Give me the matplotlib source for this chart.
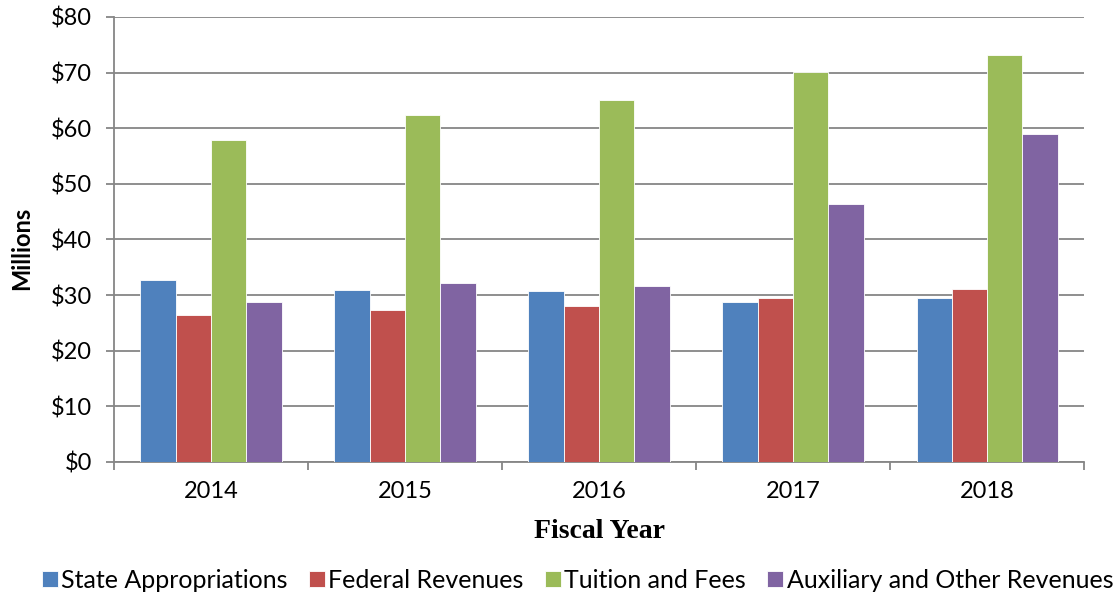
import matplotlib
matplotlib.use("Agg")
import matplotlib.pyplot as plt
import numpy as np

years = ["2014", "2015", "2016", "2017", "2018"]
series_names = ["State Appropriations", "Federal Revenues", "Tuition and Fees",
                "Auxiliary and Other Revenues"]
state = [32.7, 30.9, 30.7, 28.8, 29.5]
federal = [26.4, 27.3, 28.0, 29.5, 31.1]
tuition = [57.8, 62.3, 65.0, 70.1, 73.1]
auxiliary = [28.8, 32.1, 31.7, 46.3, 58.9]
colors = ["#4F81BD", "#C0504D", "#9BBB59", "#8064A2"]
yticks = [0, 10, 20, 30, 40, 50, 60, 70, 80]

sans = ["Lato", "DejaVu Sans"]

fig = plt.figure(figsize=(11.13, 6.02), dpi=100)
ax = fig.add_axes([0.1024, 0.2326, 0.8716, 0.7392])

data = [state, federal, tuition, auxiliary]
x = np.arange(len(years))
w = 1 / 5.5
for i, (vals, c, n) in enumerate(zip(data, colors, series_names)):
    ax.bar(x + (i - 1.5) * w, vals, width=w, color=c, label=n,
           edgecolor="white", linewidth=0.6, zorder=3)

ax.set_xlim(-0.5, len(years) - 0.5)
ax.set_ylim(0, 80)
ax.set_yticks(yticks)
ax.set_yticklabels([f"${v}" for v in yticks], fontsize=17, family=sans)
ax.yaxis.grid(True, color="#868686", linewidth=1.3, zorder=0)
ax.set_axisbelow(True)

ax.set_xticks(x)
ax.set_xticklabels(years, fontsize=17, family=sans)
ax.set_xticks(np.arange(-0.5, len(years)), minor=True)
ax.tick_params(axis="x", which="major", length=0, pad=14)
ax.tick_params(axis="x", which="minor", length=6, width=1.3, color="#868686")
ax.tick_params(axis="y", length=6, width=1.3, color="#868686", pad=10)

for s in ["top", "right"]:
    ax.spines[s].set_visible(False)
for s in ["left", "bottom"]:
    ax.spines[s].set_color("#868686")
    ax.spines[s].set_linewidth(1.3)

ax.set_ylabel("Millions", fontsize=17, fontweight="bold", family=sans)
ax.yaxis.set_label_coords(-0.0948, 0.481)
ax.yaxis.label.set_va("center")
ax.set_xlabel("Fiscal Year", fontsize=20, fontweight="bold", family="Liberation Serif")
ax.xaxis.set_label_coords(0.5, -0.157)
ax.xaxis.label.set_va("center")

leg = fig.legend(loc="center", bbox_to_anchor=(0.519, 0.0365), ncol=4, frameon=False,
                 prop={"family": sans, "size": 18}, handlelength=0.62, handleheight=0.62,
                 handletextpad=0.15, columnspacing=0.85, borderpad=0, borderaxespad=0)

fig.savefig("out.png", dpi=100)
